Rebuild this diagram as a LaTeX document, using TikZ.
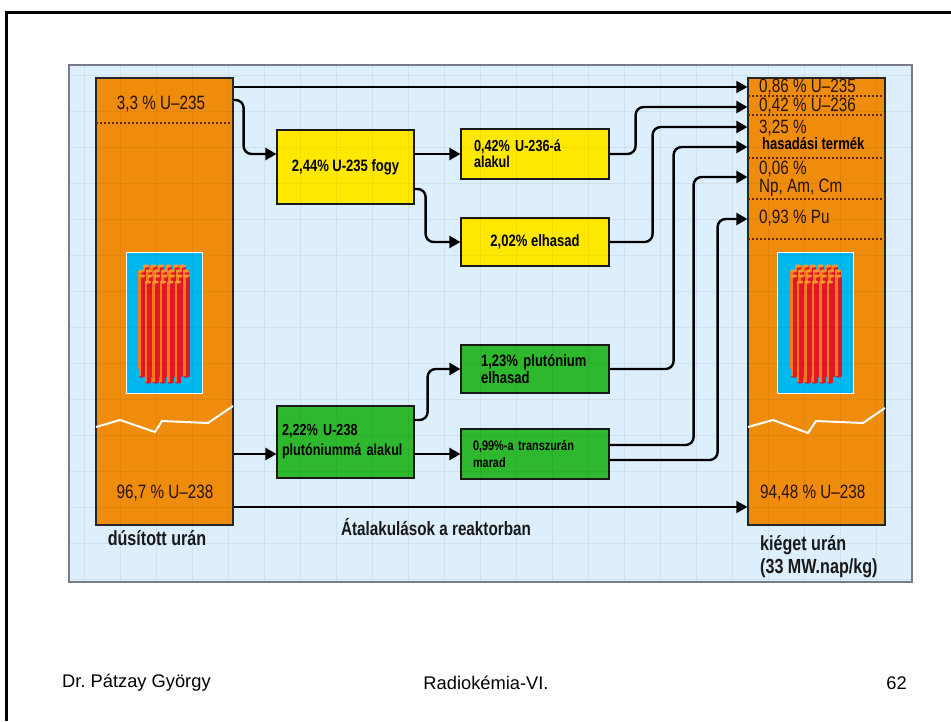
\documentclass[tikz,border=0pt]{standalone}
\usepackage{fontspec}
\setmainfont{Liberation Sans}
\newfontfamily\dfont{Liberation Sans}[FakeStretch=0.79]
\usetikzlibrary{arrows.meta}

\definecolor{panelbg}{RGB}{221,238,252}
\definecolor{panelline}{RGB}{120,125,135}
\definecolor{uorange}{RGB}{240,140,12}
\definecolor{boxyellow}{RGB}{255,232,0}
\definecolor{boxgreen}{RGB}{46,184,46}
\definecolor{rodcyan}{RGB}{0,183,238}
\definecolor{rodred}{RGB}{226,24,40}
\definecolor{rodorange}{RGB}{244,124,24}
\definecolor{rodtop}{RGB}{250,150,50}
\definecolor{sepbrown}{RGB}{90,40,10}
\definecolor{ink}{RGB}{35,20,15}

\begin{document}
\begin{tikzpicture}[x=1pt,y=-1pt,
  col/.style={draw=black!85, line width=1.2pt, fill=uorange, inner sep=0pt,
              minimum width=137pt, minimum height=447pt},
  rodbox/.style={draw=white, line width=0.8pt, fill=rodcyan, inner sep=0pt,
              minimum width=76pt, minimum height=141pt},
  fbox/.style={draw=black!90, line width=1.2pt, inner sep=0pt, text=black,
              font=\dfont\bfseries\fontsize{16.5}{18}\selectfont},
  ybox/.style={fbox, fill=boxyellow},
  gbox/.style={fbox, fill=boxgreen},
  arrow/.style={line width=2.4pt, rounded corners=8pt,
              -{Triangle[length=11pt,width=12pt]}},
  thinarrow/.style={line width=1.6pt, -{Triangle[length=11pt,width=12pt]}},
  sep/.style={draw=sepbrown, line width=1.3pt, dash pattern=on 2pt off 2pt},
  jag/.style={draw=white, line width=2pt},
  ctext/.style={font=\dfont\fontsize{19.3}{21}\selectfont, text=ink, inner sep=0pt},
  cbold/.style={font=\dfont\bfseries\fontsize{16.5}{18}\selectfont, text=black, inner sep=0pt},
  label/.style={font=\dfont\bfseries\fontsize{20.4}{23}\selectfont, text=black!90, inner sep=0pt},
  foot/.style={font=\fontsize{18.3}{21}\selectfont, text=black, inner sep=0pt},
  gridline/.style={black, opacity=0.05, line width=0.8pt}]

\useasboundingbox (0,0) rectangle (951,721);
\fill[white] (0,0) rectangle (951,721);

% page frame
\draw[line width=3pt] (6,721) -- (6,12) -- (951,12);

% diagram panel
\draw[fill=panelbg, draw=panelline, line width=1.2pt] (69,65) rectangle (912,582);

% uranium columns
\node[col] (L) at (164.5,301.5) {};
\node[col] (R) at (816.5,301.5) {};

% fuel assembly pictures
\node[rodbox] (LB) at (164,322.5) {};
\node[rodbox] (RB) at (815.5,322.5) {};
\foreach \ox/\oy in {126/252, 778/252}{
  \foreach \t/\b/\xs in {14/110/{20,27.5,35,42.5,50,57},
                         19/117/{15.5,23,30.5,38,45.5,53,60},
                         24/124/{16,23.5,31,38.5,46,53.5,60.5},
                         30/130/{22,29.5,37,44.5,52}}{
    \foreach \x in \xs{
      \fill[rodred] (\ox+\x-3.2,\oy+\t) rectangle (\ox+\x+3.2,\oy+\b);
      \fill[rodred] (\ox+\x,\oy+\b) ellipse[x radius=3.2pt, y radius=1.6pt];
      \fill[rodorange] (\ox+\x-3.2,\oy+\t) rectangle (\ox+\x-0.8,\oy+\b);
      \fill[rodtop] (\ox+\x,\oy+\t) ellipse[x radius=3.2pt, y radius=1.6pt];
    }
  }
}

% torn-off marks
\draw[jag] (96,427) -- (120,420) -- (155,432) -- (162,421) -- (208,423) -- (233,406);
\draw[jag] (748,427) -- (773,420) -- (808,433) -- (816,421) -- (863,423) -- (885,408);

% dotted separators
\draw[sep] (96,123) -- (233,123);
\foreach \sy in {96,115,158,199,239}
  \draw[sep] (748,\sy) -- (885,\sy);

% process boxes
\node[ybox, minimum width=137pt, minimum height=74pt] (b1) at (345.5,167) {2,44\% U-235 fogy};
\node[ybox, minimum width=148pt, minimum height=50pt, text width=122pt, align=left,
      font=\dfont\bfseries\fontsize{16}{16}\selectfont] (b2) at (535,154) {0,42\% U-236-á\\alakul};
\node[ybox, minimum width=148pt, minimum height=48pt] (b3) at (535,242) {2,02\% elhasad};
\node[gbox, minimum width=148pt, minimum height=48pt, text width=108pt, align=left,
      font=\dfont\bfseries\fontsize{16.5}{17}\selectfont] (g4) at (535,369) {1,23\% plutónium\\elhasad};
\node[gbox, minimum width=137pt, minimum height=72pt, text width=127pt, align=left,
      font=\dfont\bfseries\fontsize{16}{20}\selectfont] (g5) at (345.5,442) {2,22\% U-238\\plutóniummá~alakul};
\node[gbox, minimum width=148pt, minimum height=50pt, text width=124pt, align=left,
      font=\dfont\bfseries\fontsize{13.8}{17}\selectfont] (g6) at (535,454) {0,99\%-a transzurán\\marad};

% faint background grid
\begin{scope}
  \clip (69,65) rectangle (912,582);
  \foreach \gx in {84,120,...,912} \draw[gridline] (\gx,65) -- (\gx,582);
  \foreach \gy in {75,111,...,582} \draw[gridline] (69,\gy) -- (912,\gy);
\end{scope}

% connectors
\draw[thinarrow] (L.east |- 0,87) -- (R.west |- 0,87);
\draw[arrow] (L.east |- 0,100) -- ++(10,0) |- (b1.west |- 0,154);
\draw[arrow] (b1.east |- b2.west) -- (b2.west);
\draw[arrow] (b1.east |- 0,189) -- ++(11,0) |- (b3.west);
\draw[arrow] (L.east |- g6.west) -- (g5.west |- g6.west);
\draw[arrow] (g5.east |- g6.west) -- (g6.west);
\draw[arrow] (g5.east |- 0,420) -- ++(13,0) |- (g4.west);
\draw[thinarrow] (L.east |- 0,507) -- (R.west |- 0,507);
\draw[arrow] (b2.east) -- ++(26,0) |- (R.west |- 0,107);
\draw[arrow] (b3.east) -- ++(43,0) |- (R.west |- 0,127);
\draw[arrow] (g4.east) -- ++(64,0) |- (R.west |- 0,147);
\draw[arrow] (g6.east |- 0,445) -- ++(84,0) |- (R.west |- 0,177);
\draw[arrow] (g6.east |- 0,460) -- ++(108,0) |- (R.west |- 0,219);

% column texts
\node[ctext] (l1) at (161,104) {3,3 \% U–235};
\node[ctext] (l2) at (165,493) {96,7 \% U–238};
\node[ctext, anchor=west] (r1) at (759,87) {0,86 \% U–235};
\node[ctext, anchor=west] (r2) at (759,106) {0,42 \% U–236};
\node[ctext, anchor=west] (r3) at (759,128) {3,25 \%};
\node[cbold, anchor=west] (r3b) at (762,144) {hasadási termék};
\node[ctext, anchor=west] (r4) at (759,169) {0,06 \%};
\node[ctext, anchor=west] (r4b) at (759,188) {Np, Am, Cm};
\node[ctext, anchor=west] (r5) at (759,218) {0,93 \% Pu};
\node[ctext, anchor=west] (r6) at (760,493) {94,48 \% U–238};

% captions
\node[label] (capL) at (157,538) {dúsított urán};
\node[label, font=\dfont\bfseries\fontsize{19.3}{21}\selectfont] (capM) at (436,527) {Átalakulások a reaktorban};
\node[label, anchor=west] (capR1) at (760,545) {kiéget urán};
\node[label, anchor=west] (capR2) at (760,568) {(33 MW.nap/kg)};

% footer
\node[foot, anchor=west] (f1) at (62,683) {Dr.\ Pátzay György};
\node[foot] (f2) at (486,683) {Radiokémia-VI.};
\node[foot, anchor=east] (f3) at (907,683) {62};
\end{tikzpicture}
\end{document}
